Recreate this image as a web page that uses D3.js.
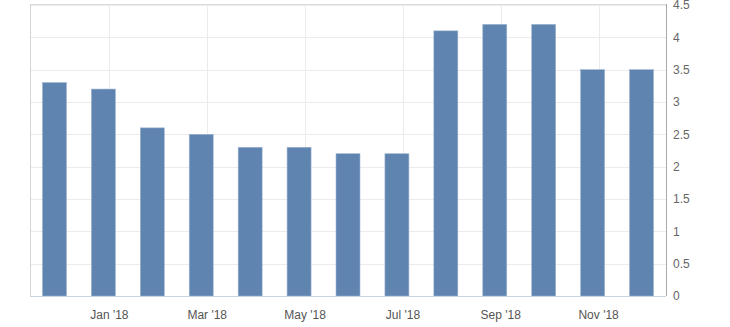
<!DOCTYPE html>
<html>
<head>
<meta charset="utf-8">
<script src="https://cdn.jsdelivr.net/npm/d3@7"></script>
<style>
  html, body { margin: 0; padding: 0; background: #fff; }
  svg { display: block; }
  text { font-family: "Liberation Sans", Arial, sans-serif; }
</style>
</head>
<body>
<svg id="chart" width="730" height="327"></svg>
<script>
const months = ["Dec '17", "Jan '18", "Feb '18", "Mar '18", "Apr '18", "May '18", "Jun '18",
                "Jul '18", "Aug '18", "Sep '18", "Oct '18", "Nov '18", "Dec '18"];
const values = [3.3, 3.2, 2.6, 2.5, 2.3, 2.3, 2.2, 2.2, 4.1, 4.2, 4.2, 3.5, 3.5];
const xTickLabels = ["Jan '18", "Mar '18", "May '18", "Jul '18", "Sep '18", "Nov '18"];
const yTicks = [0, 0.5, 1, 1.5, 2, 2.5, 3, 3.5, 4, 4.5];

const svg = d3.select("#chart");
const plotLeft = 30, plotRight = 666, plotTop = 5, plotBottom = 296;

const x = d3.scaleBand().domain(months).range([plotLeft, plotRight])
  .paddingInner(0.51).paddingOuter(0.255);
const y = d3.scaleLinear().domain([0, 4.5]).range([plotBottom, plotTop]);
const tickShift = 6;
const tickX = m => x(m) + x.bandwidth() / 2 + tickShift;

// horizontal gridlines
svg.append("g").selectAll("line").data(yTicks).join("line")
  .attr("x1", plotLeft).attr("x2", plotRight)
  .attr("y1", d => Math.round(y(d)) + 0.5).attr("y2", d => Math.round(y(d)) + 0.5)
  .attr("stroke", "#ebebeb").attr("stroke-width", 1);

// vertical gridlines
svg.append("g").selectAll("line").data(xTickLabels).join("line")
  .attr("x1", d => Math.round(tickX(d)) + 0.5).attr("x2", d => Math.round(tickX(d)) + 0.5)
  .attr("y1", 4).attr("y2", plotBottom)
  .attr("stroke", "#ebebeb").attr("stroke-width", 1);

// frame
svg.append("line").attr("x1", plotLeft).attr("x2", plotRight).attr("y1", 4.5).attr("y2", 4.5)
  .attr("stroke", "#dcdcdc");
svg.append("line").attr("x1", plotLeft + 0.5).attr("x2", plotLeft + 0.5).attr("y1", 4).attr("y2", plotBottom)
  .attr("stroke", "#d4d4d4");

// bars
svg.append("g").selectAll("rect").data(values).join("rect")
  .attr("x", (d, i) => x(months[i]))
  .attr("width", x.bandwidth())
  .attr("y", d => y(d))
  .attr("height", d => y(0) - y(d))
  .attr("fill", "#5f84b0")
  .attr("stroke", "#9cb3cf").attr("stroke-width", 0.6);

// bottom axis line
svg.append("line").attr("x1", plotLeft).attr("x2", plotRight)
  .attr("y1", plotBottom + 0.5).attr("y2", plotBottom + 0.5)
  .attr("stroke", "#c8d3e3");

// right axis
const yAxis = d3.axisRight(y).tickValues(yTicks).tickSize(0).tickPadding(7)
  .tickFormat(d3.format("~g"));
const ya = svg.append("g").attr("transform", `translate(${plotRight},0)`).call(yAxis);
ya.select(".domain").attr("stroke", "#a8a8a8").attr("d", `M0.5,4V${plotBottom}`);
ya.selectAll("text").attr("fill", "#666").attr("font-size", 12)
  .attr("font-family", "'Liberation Sans', Arial, sans-serif");

// x labels
svg.append("g").selectAll("text").data(xTickLabels).join("text")
  .attr("x", d => tickX(d)).attr("y", 319)
  .attr("text-anchor", "middle").attr("fill", "#555").attr("font-size", 12)
  .text(d => d);
</script>
</body>
</html>
